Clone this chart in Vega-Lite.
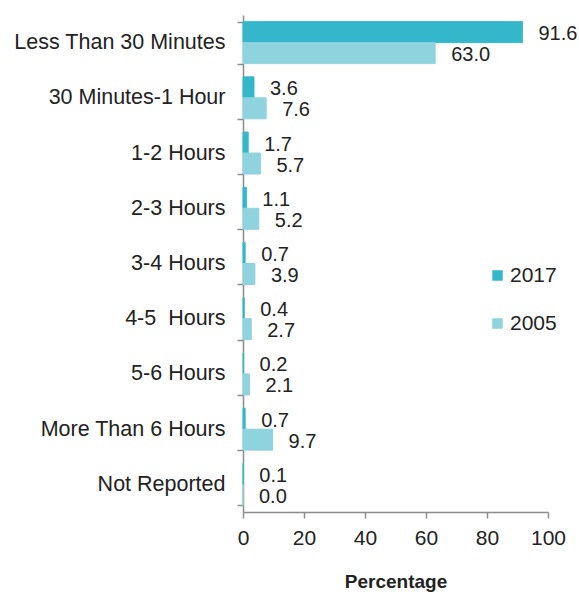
{
  "$schema": "https://vega.github.io/schema/vega-lite/v6.json",
  "width": 305,
  "height": 497,
  "autosize": {"type": "none"},
  "padding": {"left": 243, "top": 15, "right": 31, "bottom": 80},
  "background": "white",
  "config": {
    "view": {"stroke": null},
    "font": "Liberation Sans",
    "text": {"font": "Liberation Sans"}
  },
  "data": {
    "values": [
      {"category": "Less Than 30 Minutes", "year": "2017", "value": 91.6},
      {"category": "Less Than 30 Minutes", "year": "2005", "value": 63.0},
      {"category": "30 Minutes-1 Hour", "year": "2017", "value": 3.6},
      {"category": "30 Minutes-1 Hour", "year": "2005", "value": 7.6},
      {"category": "1-2 Hours", "year": "2017", "value": 1.7},
      {"category": "1-2 Hours", "year": "2005", "value": 5.7},
      {"category": "2-3 Hours", "year": "2017", "value": 1.1},
      {"category": "2-3 Hours", "year": "2005", "value": 5.2},
      {"category": "3-4 Hours", "year": "2017", "value": 0.7},
      {"category": "3-4 Hours", "year": "2005", "value": 3.9},
      {"category": "4-5\u00a0 Hours", "year": "2017", "value": 0.4},
      {"category": "4-5\u00a0 Hours", "year": "2005", "value": 2.7},
      {"category": "5-6 Hours", "year": "2017", "value": 0.2},
      {"category": "5-6 Hours", "year": "2005", "value": 2.1},
      {"category": "More Than 6 Hours", "year": "2017", "value": 0.7},
      {"category": "More Than 6 Hours", "year": "2005", "value": 9.7},
      {"category": "Not Reported", "year": "2017", "value": 0.1},
      {"category": "Not Reported", "year": "2005", "value": 0.0}
    ]
  },
  "encoding": {
    "y": {
      "field": "category",
      "type": "nominal",
      "sort": null,
      "scale": {"paddingInner": 0.24, "paddingOuter": 0.12},
      "axis": {
        "title": null,
        "tickBand": "extent",
        "domainColor": "#8c8c8c",
        "tickColor": "#8c8c8c",
        "domainWidth": 1.5,
        "tickWidth": 1.5,
        "tickSize": 6,
        "labelFontSize": 21.5,
        "labelLimit": 400,
        "labelColor": "#222222",
        "labelPadding": 12,
        "labelFont": "Liberation Sans"
      }
    },
    "yOffset": {"field": "year", "type": "nominal", "sort": ["2017", "2005"]},
    "x": {
      "field": "value",
      "type": "quantitative",
      "scale": {"domain": [0, 100]},
      "axis": {
        "title": "Percentage",
        "titleFontSize": 19,
        "titleFontWeight": "bold",
        "titleColor": "#222222",
        "titlePadding": 24,
        "titleFont": "Liberation Sans",
        "values": [0, 20, 40, 60, 80, 100],
        "labelFlush": false,
        "grid": false,
        "domainColor": "#8c8c8c",
        "tickColor": "#8c8c8c",
        "domainWidth": 1.5,
        "tickWidth": 1.5,
        "tickSize": 6,
        "labelFontSize": 21,
        "labelColor": "#222222",
        "labelPadding": 9,
        "labelFont": "Liberation Sans"
      }
    }
  },
  "layer": [
    {
      "mark": {"type": "bar", "strokeWidth": 1},
      "encoding": {
        "color": {
          "field": "year",
          "type": "nominal",
          "sort": ["2017", "2005"],
          "scale": {"domain": ["2017", "2005"], "range": ["#35b7cb", "#8fd3df"]},
          "legend": {
            "title": null,
            "orient": "none",
            "legendX": 244,
            "legendY": 250,
            "symbolType": "square",
            "symbolSize": 110,
            "symbolStrokeWidth": 0,
            "labelFontSize": 21,
            "labelColor": "#222222",
            "labelFont": "Liberation Sans",
            "labelOffset": 2,
            "rowPadding": 26
          }
        },
        "stroke": {
          "field": "year",
          "type": "nominal",
          "scale": {"domain": ["2017", "2005"], "range": ["#35b7cb", "#8fd3df"]},
          "legend": null
        }
      }
    },
    {
      "mark": {"type": "text", "align": "left", "baseline": "middle", "dx": 16, "dy": 2, "fontSize": 20, "color": "#222222", "font": "Liberation Sans"},
      "encoding": {
        "text": {"field": "value", "type": "quantitative", "format": ".1f"}
      }
    }
  ]
}
